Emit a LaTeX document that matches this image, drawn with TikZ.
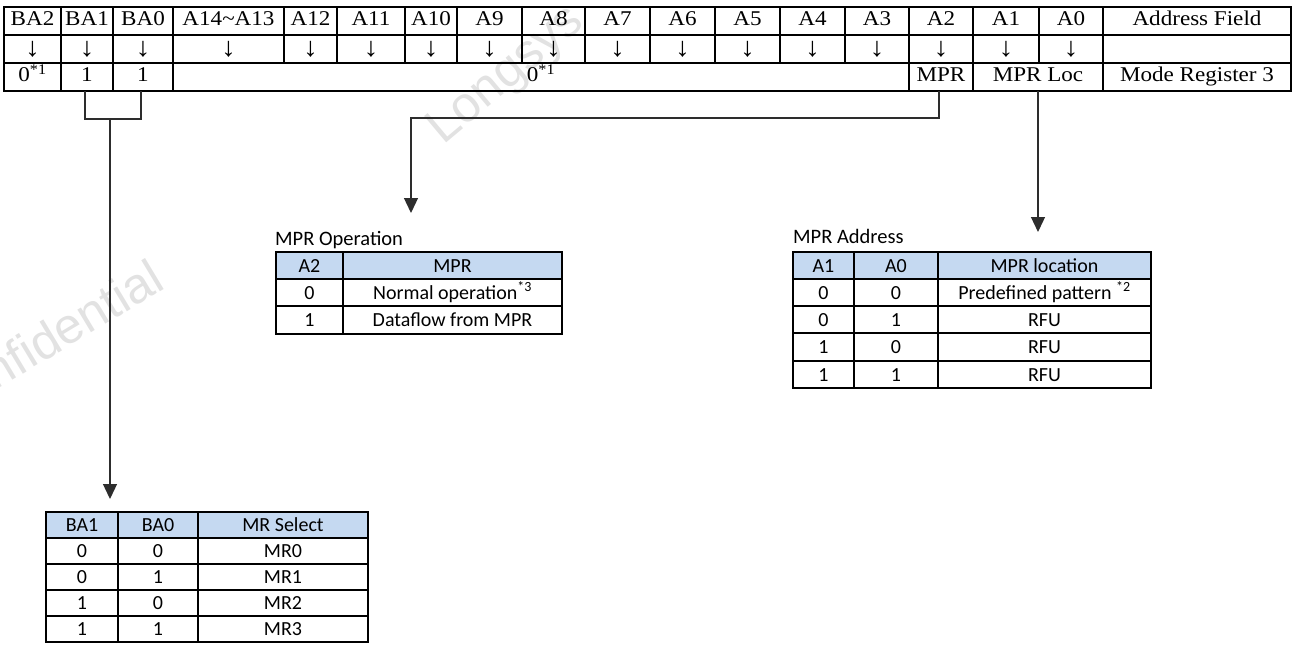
\documentclass[tikz,border=0pt]{standalone}
\usepackage{fontspec}
\setmainfont{Liberation Serif}[FakeStretch=1.1]
\newfontfamily\tabfont{Carlito}
\newfontfamily\markfont{Liberation Sans}
\usetikzlibrary{arrows.meta}
\definecolor{hdrblue}{RGB}{197,217,241}
\definecolor{wmgray}{RGB}{226,226,226}
\definecolor{wirecol}{RGB}{45,45,45}
% one table cell: [style]{name}{x left}{x right}{y top}{y bottom}{text}
\newcommand\mkcell[7][]{%
  \node[#1, minimum width={#4pt-#3pt}, minimum height={#6pt-#5pt}] (#2)
    at ({(#3+#4)/2},{(#5+#6)/2}) {#7};}
\begin{document}
\begin{tikzpicture}[x=1pt,y=-1pt,
  cellbase/.style={draw=black, line width=1.6pt, inner sep=0pt, outer sep=0pt},
  fieldcell/.style={cellbase, font=\fontsize{21}{24}\selectfont,
    text height=14pt, text depth=4pt},
  downcell/.style={cellbase, font=\fontsize{27}{28}\selectfont,
    text height=17pt, text depth=2pt},
  tabcell/.style={cellbase, font=\tabfont\fontsize{20}{24}\selectfont,
    text height=13pt, text depth=0pt},
  hdrcell/.style={tabcell, fill=hdrblue},
  tabtitle/.style={font=\tabfont\fontsize{20.5}{24}\selectfont, inner sep=0pt, anchor=base west},
  wmark/.style={font=\markfont\fontsize{50}{50}\selectfont, text=wmgray, inner sep=0pt},
  wire/.style={draw=wirecol, line width=1.3pt},
  feed/.style={wire, -{Triangle[width=14pt,length=15pt]}}
]
\useasboundingbox (0,0) rectangle (1293,650);

% faint watermarks behind everything
\node[wmark, rotate=40] (wmlongsys) at (507,76) {Longsys};
\node[wmark, rotate=31] (wmconf) at (45,340) {Confidential};

% ---- address field / mode register 3 ----
\foreach \xa/\xb/\lbl [count=\i] in {4/61/BA2, 61/113/BA1, 113/173/BA0,
    173/284/A14\textasciitilde A13, 284/337/A12, 337/405/A11, 405/457/A10,
    457/522/A9, 522/585/A8, 585/650/A7, 650/715/A6, 715/780/A5, 780/845/A4,
    845/909/A3, 909/973/A2, 973/1039/A1, 1039/1103/A0, 1103/1291/Address Field}
  {\mkcell[fieldcell]{f\i}{\xa}{\xb}{7}{35}{\lbl}}
\foreach \xa/\xb/\lbl [count=\i] in {4/61/↓, 61/113/↓, 113/173/↓,
    173/284/↓, 284/337/↓, 337/405/↓, 405/457/↓,
    457/522/↓, 522/585/↓, 585/650/↓, 650/715/↓, 715/780/↓, 780/845/↓,
    845/909/↓, 909/973/↓, 973/1039/↓, 1039/1103/↓, 1103/1291/{}}
  {\mkcell[downcell]{g\i}{\xa}{\xb}{35}{63}{\lbl}}
\mkcell[fieldcell]{v1}{4}{61}{63}{91}{0\textsuperscript{*1}}
\mkcell[fieldcell]{v2}{61}{113}{63}{91}{1}
\mkcell[fieldcell]{v3}{113}{173}{63}{91}{1}
\mkcell[fieldcell]{v4}{173}{909}{63}{91}{0\textsuperscript{*1}}
\mkcell[fieldcell]{v5}{909}{973}{63}{91}{MPR}
\mkcell[fieldcell]{v6}{973}{1103}{63}{91}{MPR Loc}
\mkcell[fieldcell]{v7}{1103}{1291}{63}{91}{Mode Register 3}

% ---- MPR Operation ----
\node[tabtitle] (optitle) at (275,245) {MPR Operation};
\mkcell[hdrcell]{oph1}{276}{343}{252}{279}{A2}
\mkcell[hdrcell]{oph2}{343}{562}{252}{279}{MPR}
\mkcell[tabcell]{op11}{276}{343}{279}{306}{0}
\mkcell[tabcell]{op12}{343}{562}{279}{306}{Normal operation\textsuperscript{*3}}
\mkcell[tabcell]{op21}{276}{343}{306}{334}{1}
\mkcell[tabcell]{op22}{343}{562}{306}{334}{Dataflow from MPR}

% ---- MPR Address ----
\node[tabtitle] (adtitle) at (793,243) {MPR Address};
\mkcell[hdrcell]{adh1}{793}{854}{252}{279}{A1}
\mkcell[hdrcell]{adh2}{854}{938}{252}{279}{A0}
\mkcell[hdrcell]{adh3}{938}{1151}{252}{279}{MPR location}
\foreach \ya/\yb/\pa/\pb/\loc [count=\r] in {279/306/0/0/Predefined pattern \textsuperscript{*2},
    306/333/0/1/RFU, 333/361/1/0/RFU, 361/388/1/1/RFU}
  {\mkcell[tabcell]{ad\r a}{793}{854}{\ya}{\yb}{\pa}
   \mkcell[tabcell]{ad\r b}{854}{938}{\ya}{\yb}{\pb}
   \mkcell[tabcell]{ad\r c}{938}{1151}{\ya}{\yb}{\loc}}

% ---- MR Select ----
\mkcell[hdrcell]{mrh1}{46}{118}{512}{538}{BA1}
\mkcell[hdrcell]{mrh2}{118}{198}{512}{538}{BA0}
\mkcell[hdrcell]{mrh3}{198}{368}{512}{538}{MR Select}
\foreach \ya/\yb/\pa/\pb/\mr [count=\r] in {538/564/0/0/MR0, 564/590/0/1/MR1,
    590/616/1/0/MR2, 616/642/1/1/MR3}
  {\mkcell[tabcell]{mr\r a}{46}{118}{\ya}{\yb}{\pa}
   \mkcell[tabcell]{mr\r b}{118}{198}{\ya}{\yb}{\pb}
   \mkcell[tabcell]{mr\r c}{198}{368}{\ya}{\yb}{\mr}}

% ---- connectors ----
\coordinate (bajoin) at (110,119);
\coordinate (mrdrop) at (110,499);
\coordinate (opdrop) at (411,213);
\coordinate (addrop) at (1038,232);
\draw[wire] ([xshift=-2pt]v2.south) -- ([xshift=-2pt]v2.south |- bajoin)
  -- ([xshift=-2pt]v3.south |- bajoin) -- ([xshift=-2pt]v3.south);
\draw[feed] (bajoin) -- (mrdrop);
\draw[feed] ([xshift=-2pt]v5.south) -- ++(0,27) -| (opdrop);
\draw[feed] (v6.south) -- (addrop);
\end{tikzpicture}
\end{document}
